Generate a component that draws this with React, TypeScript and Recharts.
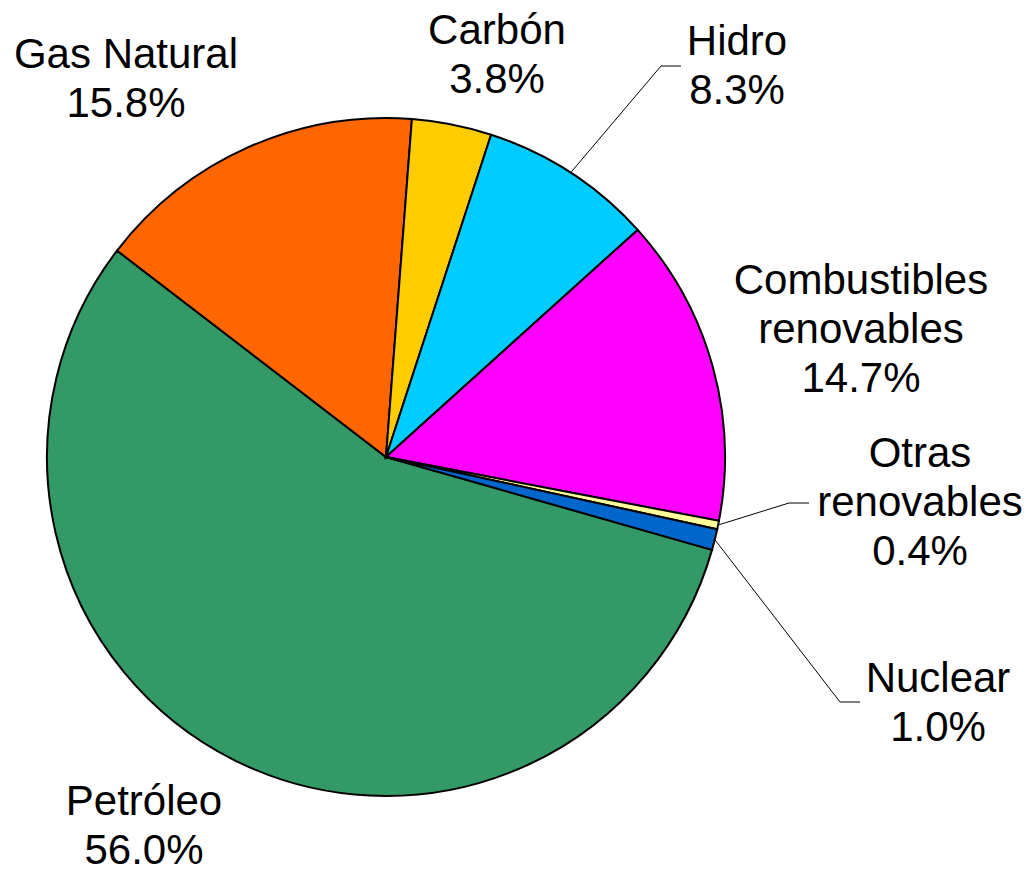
import { PieChart, Pie, Cell } from "recharts";

const names = [
  "Petróleo",
  "Gas Natural",
  "Carbón",
  "Hidro",
  "Combustibles renovables",
  "Otras renovables",
  "Nuclear",
];
const shares = [56.0, 15.8, 3.8, 8.3, 14.7, 0.4, 1.0];
const COLORS = ["#339966", "#FF6600", "#FFCC00", "#00CCFF", "#FF00FF", "#FFFF99", "#0066CC"];

const data = names.map((name, i) => ({ name, value: shares[i] }));

// label placement: text center x, first baseline y, optional leader elbow
const LABELS: Record<string, { x: number; y: number; wrap?: boolean; elbow?: [number, number]; tail?: number }> = {
  "Petróleo": { x: 144, y: 815 },
  "Gas Natural": { x: 126, y: 68 },
  "Carbón": { x: 497, y: 44 },
  "Hidro": { x: 737, y: 55, elbow: [661, 66], tail: 20 },
  "Combustibles renovables": { x: 861, y: 294, wrap: true },
  "Otras renovables": { x: 920, y: 467, wrap: true, elbow: [789, 503], tail: 20 },
  "Nuclear": { x: 938, y: 692, elbow: [840, 702], tail: 20 },
};

const FONT = "'Liberation Sans', Arial, sans-serif";
const RAD = Math.PI / 180;

function renderLabel(props: any) {
  const { cx, cy, midAngle, outerRadius, index } = props;
  const name = names[index];
  const cfg = LABELS[name];
  if (!cfg) return null;
  const lines = cfg.wrap ? name.split(" ") : [name];
  lines.push(`${shares[index].toFixed(1)}%`);
  let leader = null;
  if (cfg.elbow) {
    const sx = cx + outerRadius * Math.cos(-midAngle * RAD);
    const sy = cy + outerRadius * Math.sin(-midAngle * RAD);
    const [ex, ey] = cfg.elbow;
    leader = (
      <polyline
        points={`${sx},${sy} ${ex},${ey} ${ex + (cfg.tail || 0)},${ey}`}
        fill="none"
        stroke="#000"
        strokeWidth={1}
      />
    );
  }
  return (
    <g key={`lbl-${index}`}>
      {leader}
      <text x={cfg.x} y={cfg.y} textAnchor="middle" fontFamily={FONT} fontSize={42} fill="#000">
        {lines.map((l, i) => (
          <tspan key={i} x={cfg.x} dy={i === 0 ? 0 : 49}>
            {l}
          </tspan>
        ))}
      </text>
    </g>
  );
}

export default function App() {
  return (
    <div style={{ position: "absolute", left: 0, top: 0, width: 1026, height: 871, background: "#fff" }}>
      <PieChart width={1026} height={871} margin={{ top: 0, right: 0, bottom: 0, left: 0 }}>
        <Pie
          data={data}
          dataKey="value"
          nameKey="name"
          cx={386}
          cy={457}
          outerRadius={339}
          startAngle={-15.9}
          endAngle={-375.9}
          stroke="#000"
          strokeWidth={2}
          label={renderLabel}
          labelLine={false}
          isAnimationActive={false}
        >
          {data.map((entry, index) => (
            <Cell key={`cell-${index}`} fill={COLORS[index]} />
          ))}
        </Pie>
      </PieChart>
    </div>
  );
}
